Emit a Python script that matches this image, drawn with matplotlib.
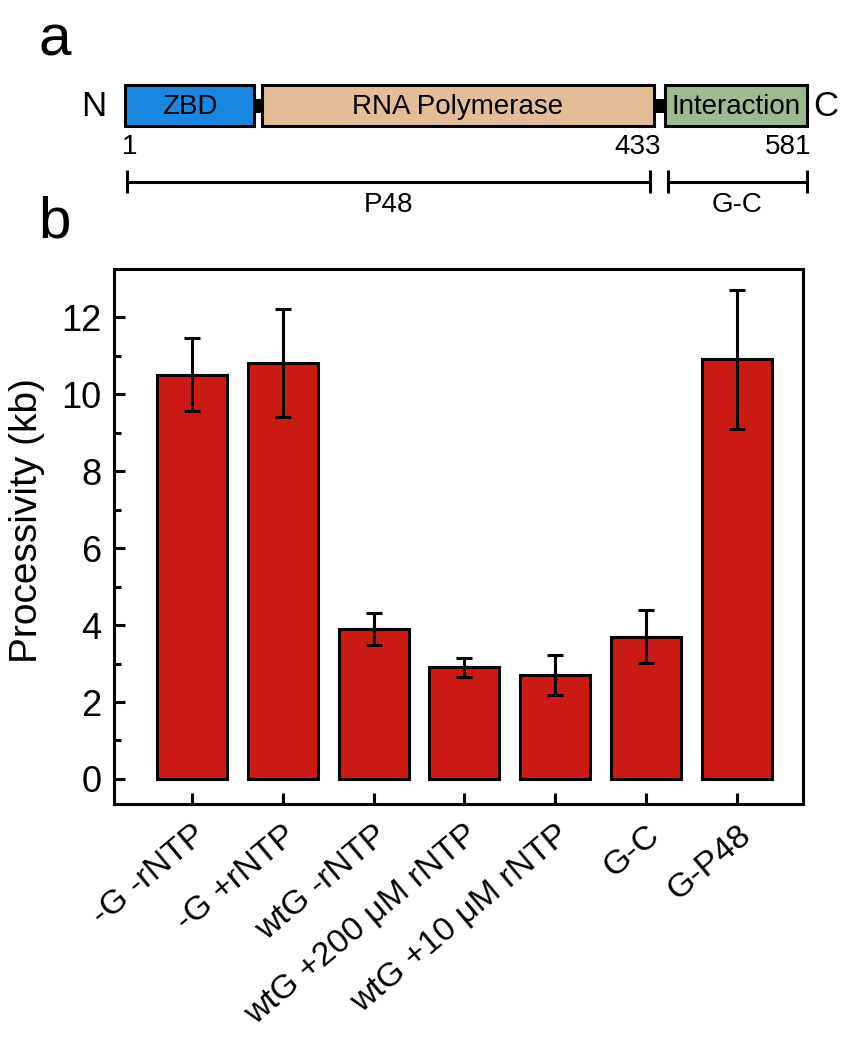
import matplotlib
matplotlib.use("Agg")
import matplotlib.pyplot as plt
import matplotlib.patches as mpatches
from matplotlib.transforms import ScaledTranslation
import numpy as np

plt.rcParams['font.family'] = ['Liberation Sans', 'DejaVu Sans']

# ---------------- data ----------------
categories = ["-G -rNTP", "-G +rNTP", "wtG -rNTP", "wtG +200 \u03bcM rNTP",
              "wtG +10 \u03bcM rNTP", "G-C", "G-P48"]
processivity = [10.5, 10.8, 3.9, 2.9, 2.7, 3.7, 10.9]
errors = [0.95, 1.4, 0.42, 0.25, 0.53, 0.68, 1.8]
yticks = [0, 2, 4, 6, 8, 10, 12]

domain_names = ["ZBD", "RNA Polymerase", "Interaction"]
domain_colors = ["#1A87E0", "#E2BD96", "#9DBB8E"]
residue_labels = ["1", "433", "581"]
fragment_names = ["P48", "G-C"]

# ---------------- figure ----------------
W, H = 861, 1038
fig = plt.figure(figsize=(W / 100, H / 100), dpi=100)

# overlay in pixel coordinates for the schematic (panel a) and panel letters
ov = fig.add_axes([0, 0, 1, 1])
ov.set_xlim(0, W)
ov.set_ylim(H, 0)
ov.axis('off')

# schematic layout (pixels)
box_x = [(125, 254), (262, 654), (665, 807)]
box_top, box_bot = 85, 126
for (x0, x1), name, col in zip(box_x, domain_names, domain_colors):
    ov.add_patch(mpatches.Rectangle((x0, box_top), x1 - x0, box_bot - box_top,
                                    facecolor=col, edgecolor='black', lw=2.2))
    ov.text((x0 + x1) / 2, (box_top + box_bot) / 2 + 1, name, ha='center',
            va='center', fontsize=20)
# linkers
for x0, x1 in [(254, 262), (654, 665)]:
    ov.add_patch(mpatches.Rectangle((x0, 99), x1 - x0, 14, facecolor='black',
                                    edgecolor='none'))
ov.text(94, 106, "N", ha='center', va='center', fontsize=25)
ov.text(826, 106, "C", ha='center', va='center', fontsize=25)
for xpos, lab in zip([130, 638, 788], residue_labels):
    ov.text(xpos, 147, lab, ha='center', va='center', fontsize=20)

# fragment scale bars
for (x0, x1), name in zip([(127, 650), (668, 807)], fragment_names):
    ov.plot([x0, x1], [182, 182], color='black', lw=2.2, solid_capstyle='butt')
    ov.plot([x0, x0], [170, 193], color='black', lw=2.2, solid_capstyle='butt')
    ov.plot([x1, x1], [170, 193], color='black', lw=2.2, solid_capstyle='butt')
    ov.text((x0 + x1) / 2, 205, name, ha='center', va='center', fontsize=20)

ov.text(55, 40, "a", ha='center', va='center', fontsize=42)
ov.text(55, 222, "b", ha='center', va='center', fontsize=42)

# ---------------- panel b ----------------
l, r, t, b = 114, 803, 269, 804
ax = fig.add_axes([l / W, 1 - b / H, (r - l) / W, (b - t) / H])
x = np.arange(len(categories))
ax.bar(x, processivity, width=0.77, color='#CC1A14', edgecolor='black',
       linewidth=2.2, zorder=2)
ax.errorbar(x, processivity, yerr=errors, fmt='none', ecolor='black',
            elinewidth=2.2, capsize=6, capthick=2.2, zorder=3)

ax.set_xlim(-0.86, 6.73)
ax.set_ylim(-0.65, 13.25)
ax.set_yticks(yticks)
ax.set_yticks(np.arange(1, 13, 2), minor=True)
ax.set_xticks(x)
ax.set_xticklabels(categories, rotation=40, ha='right', va='top',
                   rotation_mode='anchor', fontsize=24.5)
for lab in ax.get_xticklabels():
    lab.set_transform(lab.get_transform() + ScaledTranslation(0.15, 0, fig.dpi_scale_trans))
ax.tick_params(axis='y', which='major', direction='in', length=8, width=2.2,
               labelsize=26, pad=9)
ax.tick_params(axis='y', which='minor', direction='in', length=5, width=2.2)
ax.tick_params(axis='x', which='major', direction='in', length=8, width=2.2,
               pad=11)
ax.tick_params(top=False, right=False)
for s in ax.spines.values():
    s.set_linewidth(2.2)
ax.set_ylabel("Processivity (kb)", fontsize=28)
ax.yaxis.set_label_coords(-0.100, 0.529)

fig.savefig("out.png", dpi=100)
